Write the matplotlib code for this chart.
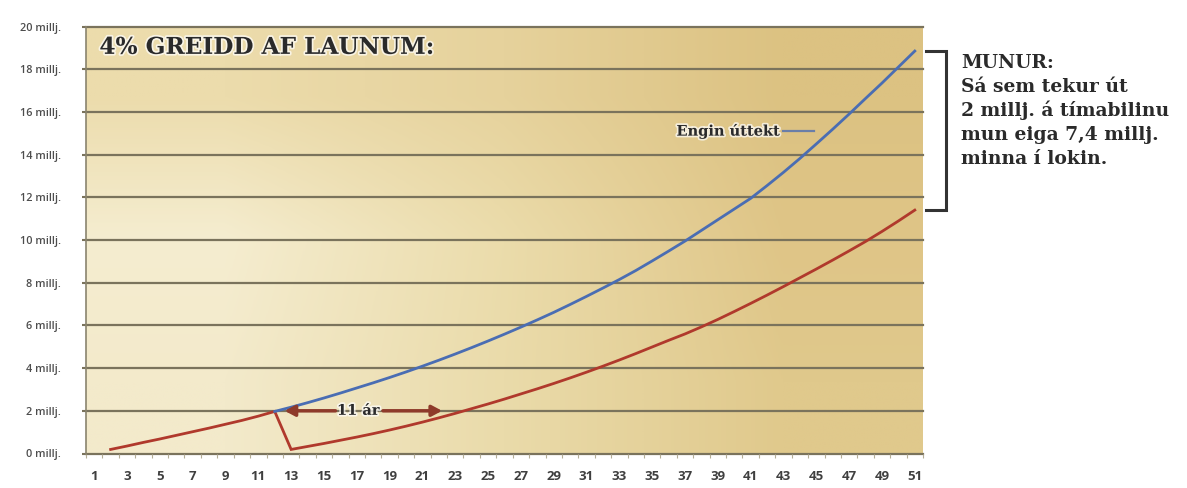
import numpy as np
import matplotlib
matplotlib.use("Agg")
import matplotlib.pyplot as plt
import matplotlib.patheffects as pe
from matplotlib.colors import to_rgb

# ---- data (millions ISK) ----
years = list(range(1, 52))

red_years = list(range(2, 52))
red_values = [0.19, 0.35, 0.52, 0.68, 0.85, 1.02, 1.19, 1.37, 1.55, 1.75, 1.97,   # 2..12
              0.19, 0.33, 0.47, 0.62, 0.77, 0.93, 1.10, 1.28, 1.47, 1.67,         # 13..22
              1.88, 2.10, 2.32, 2.55, 2.79, 3.03, 3.28, 3.54, 3.81, 4.09,         # 23..32
              4.38, 4.68, 4.99, 5.30, 5.60, 5.93, 6.28, 6.65, 7.03, 7.42,         # 33..42
              7.82, 8.23, 8.64, 9.06, 9.49, 9.93, 10.40, 10.89, 11.40]            # 43..51

blue_years = list(range(12, 52))
blue_values = [1.97, 2.17, 2.38, 2.60, 2.83, 3.07, 3.31, 3.56, 3.82, 4.09,        # 12..21
               4.37, 4.66, 4.96, 5.27, 5.59, 5.92, 6.26, 6.61, 6.98, 7.36,        # 22..31
               7.75, 8.15, 8.57, 9.02, 9.48, 9.95, 10.45, 10.95, 11.45, 11.95,    # 32..41
               12.55, 13.17, 13.82, 14.50, 15.19, 15.90, 16.63, 17.35, 18.10,     # 42..50
               18.85]                                                             # 51

y_ticks = list(range(0, 21, 2))
y_labels = [f"{v} millj." for v in y_ticks]
x_labels = [str(y) if y % 2 == 1 else "" for y in years]

title_text = "4% GREIDD AF LAUNUM:"
series_label = "Engin úttekt"
span_label = "11 ár"
note_lines = ["MUNUR:", "Sá sem tekur út", "2 millj. á tímabilinu",
              "mun eiga 7,4 millj.", "minna í lokin."]

# ---- style ----
W, H = 1187, 488
fig = plt.figure(figsize=(W / 100, H / 100), dpi=100, facecolor="white")
ax = fig.add_axes([86 / W, 1 - 453.5 / H, 837 / W, 427 / H])

grid_col = "#7a735c"
blue = "#4a6db3"
red = "#b0392c"
arrow_col = "#8e3a2a"
text_col = "#2a2a2a"
serif = ["DejaVu Serif"]
halo = [pe.withStroke(linewidth=2.5, foreground="white", alpha=0.7)]

# parchment background gradient
grid_cols = [["#ecdcac", "#e6d29c", "#dcc282"],
             ["#f5edd0", "#ebdcab", "#dfc587"],
             ["#f3eacb", "#eadbaa", "#e0c98c"]]
bg = np.array([[to_rgb(c) for c in row] for row in grid_cols])
ax.imshow(bg, extent=(0, 1, 0, 1), transform=ax.transAxes, aspect="auto",
          interpolation="bilinear", zorder=0)

ax.set_xlim(0.5, 51.5)
ax.set_ylim(0, 20)

# horizontal gridlines
for v in y_ticks:
    ax.axhline(v, color=grid_col, lw=1.6, zorder=1, clip_on=False)

# series
ax.plot(red_years, red_values, color=red, lw=2.0, zorder=3, solid_joinstyle="miter")
ax.plot(blue_years, blue_values, color=blue, lw=2.0, zorder=4)

# axes
for s in ["top", "right", "bottom"]:
    ax.spines[s].set_visible(False)
ax.spines["left"].set_color("#8a846e")
ax.spines["left"].set_linewidth(1.2)

ax.set_yticks(y_ticks)
ax.set_yticklabels(y_labels, fontsize=7.8, fontweight="semibold",
                   color="#4d4d4d", family="Open Sans")
ax.tick_params(axis="y", length=3, width=1.5, color=grid_col, pad=15)

ax.set_xticks(years)
ax.set_xticklabels(x_labels, fontsize=9.5, fontweight="bold", color="#3f3f3f",
                   family="Open Sans")
ax.tick_params(axis="x", length=0, pad=12)
ax.set_xticks(np.arange(0.5, 52, 1), minor=True)
ax.tick_params(axis="x", which="minor", length=3, width=0.8, color="#b5ae98")

# title inside the plot
ax.text(0.016, 0.95, title_text, transform=ax.transAxes, fontsize=16.7,
        fontweight="bold", family=serif, color=text_col, va="center",
        ha="left", path_effects=halo, zorder=6)

# series label with leader
ax.text(42.8, 15.1, series_label, fontsize=10.5, fontweight="bold",
        family=serif, color=text_col, va="center", ha="right",
        path_effects=halo, zorder=6)
ax.plot([43.0, 44.85], [15.1, 15.1], color="#6a7ea8", lw=1.6, zorder=5)

# span arrows
ax.text(17.1, 2.0, span_label, fontsize=10.5, fontweight="bold", family=serif,
        color=text_col, va="center", ha="center", path_effects=halo, zorder=6)
arrow_kw = dict(arrowstyle="-|>,head_length=0.6,head_width=0.32",
                color=arrow_col, lw=2.5, shrinkA=0, shrinkB=0)
ax.annotate("", xy=(12.6, 2.0), xytext=(15.7, 2.0), arrowprops=arrow_kw, zorder=6)
ax.annotate("", xy=(22.2, 2.0), xytext=(18.6, 2.0), arrowprops=arrow_kw, zorder=6)

# difference bracket
x0, x1 = 51.68, 52.9
ax.plot([x0, x1, x1, x0], [blue_values[-1], blue_values[-1], red_values[-1], red_values[-1]],
        color="#333333", lw=2.2, clip_on=False, zorder=6, solid_joinstyle="miter")

# note next to the bracket
for i, line in enumerate(note_lines):
    fig.text(961 / W, 1 - (62.5 + 24 * i) / H, line, fontsize=13.5,
             fontweight="bold", family=serif, color=text_col,
             va="center", ha="left")

fig.savefig("out.png", dpi=100, facecolor="white")
